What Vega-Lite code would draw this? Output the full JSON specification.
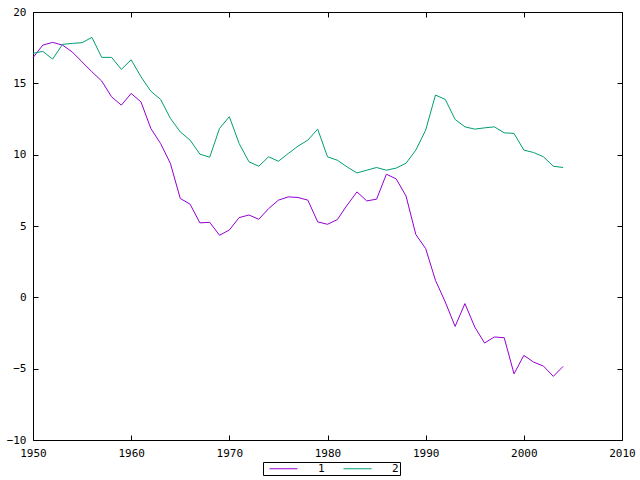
{
  "$schema": "https://vega.github.io/schema/vega-lite/v6.json",
  "width": 589,
  "height": 428,
  "autosize": "none",
  "padding": {"left": 33, "top": 12, "right": 18, "bottom": 40},
  "background": "white",
  "config": {
    "view": {"stroke": "black", "strokeWidth": 1},
    "font": "DejaVu Sans Mono",
    "axis": {
      "grid": false,
      "domain": false,
      "tickColor": "black",
      "tickSize": -5,
      "labelFont": "DejaVu Sans Mono",
      "labelFontSize": 11,
      "labelColor": "black",
      "title": null
    },
    "legend": {
      "labelFont": "DejaVu Sans Mono",
      "labelFontSize": 11,
      "labelColor": "black"
    }
  },
  "data": {
    "values": [
      {"year": 1950, "value": 16.8, "series": "1"},
      {"year": 1951, "value": 17.68, "series": "1"},
      {"year": 1952, "value": 17.87, "series": "1"},
      {"year": 1953, "value": 17.68, "series": "1"},
      {"year": 1954, "value": 17.2, "series": "1"},
      {"year": 1955, "value": 16.5, "series": "1"},
      {"year": 1956, "value": 15.81, "series": "1"},
      {"year": 1957, "value": 15.16, "series": "1"},
      {"year": 1958, "value": 14.06, "series": "1"},
      {"year": 1959, "value": 13.47, "series": "1"},
      {"year": 1960, "value": 14.29, "series": "1"},
      {"year": 1961, "value": 13.7, "series": "1"},
      {"year": 1962, "value": 11.84, "series": "1"},
      {"year": 1963, "value": 10.78, "series": "1"},
      {"year": 1964, "value": 9.38, "series": "1"},
      {"year": 1965, "value": 6.93, "series": "1"},
      {"year": 1966, "value": 6.53, "series": "1"},
      {"year": 1967, "value": 5.22, "series": "1"},
      {"year": 1968, "value": 5.26, "series": "1"},
      {"year": 1969, "value": 4.35, "series": "1"},
      {"year": 1970, "value": 4.72, "series": "1"},
      {"year": 1971, "value": 5.59, "series": "1"},
      {"year": 1972, "value": 5.77, "series": "1"},
      {"year": 1973, "value": 5.47, "series": "1"},
      {"year": 1974, "value": 6.22, "series": "1"},
      {"year": 1975, "value": 6.81, "series": "1"},
      {"year": 1976, "value": 7.04, "series": "1"},
      {"year": 1977, "value": 7.0, "series": "1"},
      {"year": 1978, "value": 6.81, "series": "1"},
      {"year": 1979, "value": 5.29, "series": "1"},
      {"year": 1980, "value": 5.12, "series": "1"},
      {"year": 1981, "value": 5.45, "series": "1"},
      {"year": 1982, "value": 6.46, "series": "1"},
      {"year": 1983, "value": 7.39, "series": "1"},
      {"year": 1984, "value": 6.76, "series": "1"},
      {"year": 1985, "value": 6.88, "series": "1"},
      {"year": 1986, "value": 8.63, "series": "1"},
      {"year": 1987, "value": 8.3, "series": "1"},
      {"year": 1988, "value": 7.1, "series": "1"},
      {"year": 1989, "value": 4.4, "series": "1"},
      {"year": 1990, "value": 3.42, "series": "1"},
      {"year": 1991, "value": 1.19, "series": "1"},
      {"year": 1992, "value": -0.33, "series": "1"},
      {"year": 1993, "value": -2.04, "series": "1"},
      {"year": 1994, "value": -0.44, "series": "1"},
      {"year": 1995, "value": -2.08, "series": "1"},
      {"year": 1996, "value": -3.2, "series": "1"},
      {"year": 1997, "value": -2.78, "series": "1"},
      {"year": 1998, "value": -2.83, "series": "1"},
      {"year": 1999, "value": -5.36, "series": "1"},
      {"year": 2000, "value": -4.07, "series": "1"},
      {"year": 2001, "value": -4.54, "series": "1"},
      {"year": 2002, "value": -4.82, "series": "1"},
      {"year": 2003, "value": -5.54, "series": "1"},
      {"year": 2004, "value": -4.84, "series": "1"},
      {"year": 1950, "value": 17.1, "series": "2"},
      {"year": 1951, "value": 17.24, "series": "2"},
      {"year": 1952, "value": 16.7, "series": "2"},
      {"year": 1953, "value": 17.73, "series": "2"},
      {"year": 1954, "value": 17.8, "series": "2"},
      {"year": 1955, "value": 17.85, "series": "2"},
      {"year": 1956, "value": 18.22, "series": "2"},
      {"year": 1957, "value": 16.82, "series": "2"},
      {"year": 1958, "value": 16.82, "series": "2"},
      {"year": 1959, "value": 15.98, "series": "2"},
      {"year": 1960, "value": 16.65, "series": "2"},
      {"year": 1961, "value": 15.46, "series": "2"},
      {"year": 1962, "value": 14.45, "series": "2"},
      {"year": 1963, "value": 13.87, "series": "2"},
      {"year": 1964, "value": 12.54, "series": "2"},
      {"year": 1965, "value": 11.6, "series": "2"},
      {"year": 1966, "value": 11.02, "series": "2"},
      {"year": 1967, "value": 10.04, "series": "2"},
      {"year": 1968, "value": 9.82, "series": "2"},
      {"year": 1969, "value": 11.84, "series": "2"},
      {"year": 1970, "value": 12.66, "series": "2"},
      {"year": 1971, "value": 10.78, "series": "2"},
      {"year": 1972, "value": 9.5, "series": "2"},
      {"year": 1973, "value": 9.19, "series": "2"},
      {"year": 1974, "value": 9.85, "series": "2"},
      {"year": 1975, "value": 9.54, "series": "2"},
      {"year": 1976, "value": 10.08, "series": "2"},
      {"year": 1977, "value": 10.6, "series": "2"},
      {"year": 1978, "value": 11.02, "series": "2"},
      {"year": 1979, "value": 11.79, "series": "2"},
      {"year": 1980, "value": 9.85, "series": "2"},
      {"year": 1981, "value": 9.61, "series": "2"},
      {"year": 1982, "value": 9.14, "series": "2"},
      {"year": 1983, "value": 8.72, "series": "2"},
      {"year": 1984, "value": 8.91, "series": "2"},
      {"year": 1985, "value": 9.1, "series": "2"},
      {"year": 1986, "value": 8.91, "series": "2"},
      {"year": 1987, "value": 9.06, "series": "2"},
      {"year": 1988, "value": 9.4, "series": "2"},
      {"year": 1989, "value": 10.32, "series": "2"},
      {"year": 1990, "value": 11.72, "series": "2"},
      {"year": 1991, "value": 14.18, "series": "2"},
      {"year": 1992, "value": 13.87, "series": "2"},
      {"year": 1993, "value": 12.47, "series": "2"},
      {"year": 1994, "value": 11.95, "series": "2"},
      {"year": 1995, "value": 11.79, "series": "2"},
      {"year": 1996, "value": 11.88, "series": "2"},
      {"year": 1997, "value": 11.95, "series": "2"},
      {"year": 1998, "value": 11.53, "series": "2"},
      {"year": 1999, "value": 11.49, "series": "2"},
      {"year": 2000, "value": 10.32, "series": "2"},
      {"year": 2001, "value": 10.15, "series": "2"},
      {"year": 2002, "value": 9.85, "series": "2"},
      {"year": 2003, "value": 9.19, "series": "2"},
      {"year": 2004, "value": 9.1, "series": "2"}
    ]
  },
  "layer": [
    {
      "mark": {"type": "line", "strokeWidth": 1},
      "encoding": {
        "x": {
          "field": "year", "type": "quantitative",
          "scale": {"domain": [1950, 2010], "nice": false, "zero": false},
          "axis": {"orient": "bottom", "values": [1950, 1960, 1970, 1980, 1990, 2000, 2010], "format": "d", "labelPadding": 12, "labelFlush": false}
        },
        "y": {
          "field": "value", "type": "quantitative",
          "scale": {"domain": [-10, 20], "nice": false, "zero": false},
          "axis": {"orient": "left", "values": [-10, -5, 0, 5, 10, 15, 20], "labelPadding": 12, "labelFlush": false}
        },
        "color": {
          "field": "series", "type": "nominal",
          "scale": {"domain": ["1", "2"], "range": ["#9400D3", "#009E73"]},
          "legend": {
            "title": null,
            "orient": "none",
            "legendX": 230,
            "legendY": 450,
            "direction": "horizontal",
            "symbolType": "M0,0H14",
            "symbolSize": 16,
            "symbolStrokeWidth": 1,
            "labelOffset": 43,
            "columnPadding": 13,
            "strokeColor": "black",
            "padding": 1
          }
        }
      }
    },
    {
      "mark": {"type": "line", "strokeWidth": 1, "strokeOpacity": 0},
      "encoding": {
        "x": {
          "field": "year", "type": "quantitative",
          "axis": {"orient": "top", "values": [1950, 1960, 1970, 1980, 1990, 2000, 2010], "labels": false}
        },
        "y": {
          "field": "value", "type": "quantitative",
          "axis": {"orient": "right", "values": [-10, -5, 0, 5, 10, 15, 20], "labels": false}
        },
        "detail": {"field": "series"}
      }
    }
  ],
  "resolve": {"axis": {"x": "independent", "y": "independent"}}
}
